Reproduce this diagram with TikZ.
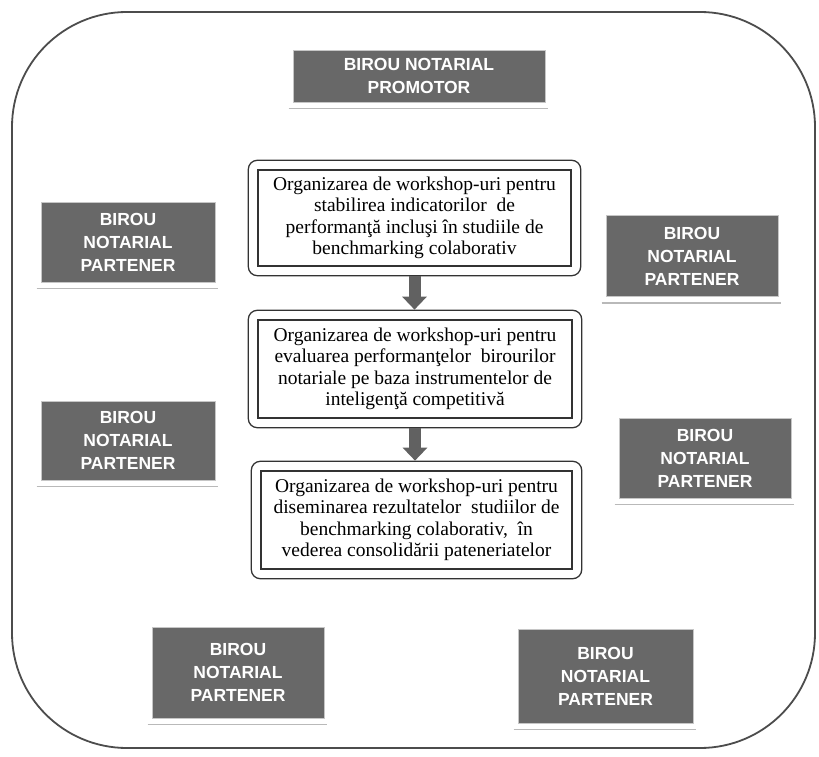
\documentclass[tikz,border=0pt]{standalone}
\usepackage{fontspec}
\setmainfont{Liberation Serif}
\newfontfamily\boxsans{Liberation Sans}
\usetikzlibrary{fit,arrows.meta,calc}
\definecolor{boxgray}{HTML}{686868}
\definecolor{linegray}{HTML}{333333}
\begin{document}
\begin{tikzpicture}[x=1pt,y=1pt,
 partner/.style={fill=boxgray, draw=gray!45, line width=0.8, text=white,
   font=\boxsans\bfseries\fontsize{17.5}{23}\selectfont, align=center, inner sep=0pt},
 stepbox/.style={draw=linegray, line width=1.4, align=center, inner sep=0pt,
   font=\fontsize{19.5}{21.5}\selectfont},
 framebox/.style={draw=linegray, line width=1.3, rounded corners=9, inner sep=9pt},
 flowarrow/.style={draw=black!62, line width=12, -{Triangle[width=24pt,length=13pt]}},
 shadowline/.style={draw=gray!55, line width=1.6}
]
\useasboundingbox (0,0) rectangle (819,756);
\fill[white] (0,0) rectangle (819,756);
% outer frame
\draw[line width=1.8, draw=black!70, rounded corners=115] (12,8) rectangle (815,744);

% partner boxes
\node[partner, minimum width=252, minimum height=52] (prom) at (419,680) {BIROU NOTARIAL\\PROMOTOR};
\node[partner, minimum width=174, minimum height=80] (lp1) at (128,514) {BIROU\\NOTARIAL\\PARTENER};
\node[partner, minimum width=172, minimum height=81] (rp1) at (692,500) {BIROU\\NOTARIAL\\PARTENER};
\node[partner, minimum width=174, minimum height=79] (lp2) at (128,315.5) {BIROU\\NOTARIAL\\PARTENER};
\node[partner, minimum width=172, minimum height=80] (rp2) at (705,298) {BIROU\\NOTARIAL\\PARTENER};
\node[partner, minimum width=172, minimum height=91] (bl) at (238,83.5) {BIROU\\NOTARIAL\\PARTENER};
\node[partner, minimum width=175, minimum height=94] (br) at (605.5,80) {BIROU\\NOTARIAL\\PARTENER};
\foreach \n in {prom,lp1,rp1,lp2,rp2,bl,br}{
  \draw[shadowline] ($(\n.south west)+(-4,-6)$) -- ($(\n.south east)+(3,-6)$);
}

% step boxes
\node[stepbox, minimum width=313, minimum height=96] (b1) at (414.5,538)
 {Organizarea de workshop-uri pentru\\stabilirea indicatorilor\ \ de\\performanţă incluşi în studiile de\\benchmarking colaborativ};
\node[stepbox, minimum width=314, minimum height=98] (b2) at (415,387)
 {Organizarea de workshop-uri pentru\\evaluarea performanţelor\ \ birourilor\\notariale pe baza instrumentelor de\\inteligenţă competitivă};
\node[stepbox, minimum width=311, minimum height=98] (b3) at (416.5,236)
 {Organizarea de workshop-uri pentru\\diseminarea rezultatelor\ \ studiilor de\\benchmarking colaborativ,\ \ în\\vederea consolidării pateneriatelor};
\node[framebox, fit=(b1)] (b1o) {};
\node[framebox, fit=(b2)] (b2o) {};
\node[framebox, fit=(b3)] (b3o) {};

% arrows
\draw[flowarrow] (b1o.south) -- (b1o.south |- b2o.north);
\draw[flowarrow] (b2o.south) -- (b2o.south |- b3o.north);
\end{tikzpicture}
\end{document}
